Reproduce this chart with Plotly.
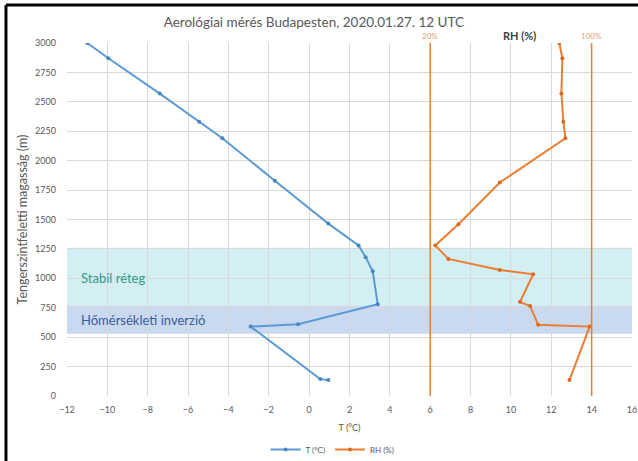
import plotly.graph_objects as go

# Temperature profile
t_height = [3000, 2870, 2570, 2330, 2190, 1830, 1465, 1280, 1180, 1060, 780, 610, 590, 145, 135]
t_values = [-11.0, -9.95, -7.4, -5.45, -4.3, -1.7, 0.95, 2.45, 2.8, 3.15, 3.4, -0.55, -2.9, 0.55, 0.95]

# Relative humidity profile
rh_height = [3000, 2870, 2570, 2330, 2190, 1815, 1460, 1280, 1165, 1070, 1035, 800, 765, 605, 590, 135]
rh_values = [84, 85.5, 85, 86, 87, 54.5, 34, 22.5, 29, 54.5, 71, 64.5, 69.5, 73.5, 99, 89]

# Layers (m)
stable_layer = [770, 1260]
inversion_layer = [530, 770]
rh_refs = [20, 100]
rh_ref_labels = ["20%", "100%"]

x_ticks = list(range(-12, 17, 2))
y_ticks = list(range(0, 3001, 250))

BLUE = "#5B9BD5"
ORANGE = "#ED7D31"
FONT = "Lato, Noto Sans, sans-serif"

fig = go.Figure()

fig.add_trace(go.Scatter(
    x=t_values, y=t_height, mode="lines+markers", name="T (°C)",
    line=dict(color=BLUE, width=2), marker=dict(color="#4A86C0", size=4),
    xaxis="x", yaxis="y"))

fig.add_trace(go.Scatter(
    x=rh_values, y=rh_height, mode="lines+markers", name="RH (%)",
    line=dict(color=ORANGE, width=2), marker=dict(color="#D96B20", size=4),
    xaxis="x2", yaxis="y"))

shapes = [
    dict(type="rect", xref="paper", yref="y", x0=0, x1=1,
         y0=stable_layer[0], y1=stable_layer[1],
         fillcolor="#d3eff4", line=dict(width=0), layer="below"),
    dict(type="rect", xref="paper", yref="y", x0=0, x1=1,
         y0=inversion_layer[0], y1=inversion_layer[1],
         fillcolor="#c9d9ef", line=dict(width=0), layer="below"),
    # outer frame (left and top edges)
    dict(type="line", xref="paper", yref="paper", x0=-0.108, x1=-0.108, y0=-0.3, y1=1.108,
         line=dict(color="black", width=3)),
    dict(type="line", xref="paper", yref="paper", x0=-0.108, x1=1.05, y0=1.108, y1=1.108,
         line=dict(color="black", width=3)),
]
for v in rh_refs:
    shapes.append(dict(type="line", xref="x2", yref="paper", x0=v, x1=v, y0=0, y1=1,
                       line=dict(color=ORANGE, width=1.5)))

annotations = [
    dict(text="Stabil réteg", x=0.022, xref="paper", y=1000, yref="y", xanchor="left",
         showarrow=False, font=dict(family=FONT, size=13, color="#2e9c8c")),
    dict(text="Hőmérsékleti inverzió", x=0.022, xref="paper", y=646, yref="y", xanchor="left",
         showarrow=False, font=dict(family=FONT, size=13, color="#3a5d9c")),
    dict(text="<b>RH (%)</b>", x=0.80, xref="paper", xanchor="center", y=1.045, yref="paper",
         showarrow=False, font=dict(family=FONT, size=11, color="#404040")),
]
for v, lab in zip(rh_refs, rh_ref_labels):
    annotations.append(dict(text=lab, x=v, xref="x2", xanchor="center", y=1.0, yref="paper",
                            yanchor="bottom", showarrow=False,
                            font=dict(family=FONT, size=8, color="#E8A070")))

fig.update_layout(
    width=638, height=461,
    margin=dict(l=67, r=6, t=43, b=65, autoexpand=False),
    paper_bgcolor="white", plot_bgcolor="white",
    title=dict(text="Aerológiai mérés Budapesten, 2020.01.27. 12 UTC", x=0.492, xanchor="center",
               y=0.952, yanchor="middle", font=dict(family=FONT, size=13.5, color="#595959")),
    font=dict(family=FONT, size=9, color="#595959"),
    xaxis=dict(range=[-12, 16], tickvals=x_ticks, showgrid=True, gridcolor="#d9d9d9",
               zeroline=False, showline=False, ticks="", ticklabelstandoff=7,
               title=dict(text="T (°C)", font=dict(size=9, color="#595959"), standoff=10)),
    xaxis2=dict(range=[-160, 120], overlaying="x", side="top", showticklabels=False,
                showgrid=False, zeroline=False, showline=False),
    yaxis=dict(range=[0, 3000], tickvals=y_ticks, showgrid=True, gridcolor="#d9d9d9",
               zeroline=False, showline=False, ticks="", ticklabelstandoff=10,
               title=dict(text="Tengerszintfeletti magasság (m)",
                          font=dict(size=12.5, color="#595959"), standoff=4)),
    legend=dict(orientation="h", x=0.47, xanchor="center", xref="paper",
                y=0.025, yref="container", yanchor="middle", itemwidth=30,
                font=dict(size=8, color="#595959")),
    shapes=shapes, annotations=annotations,
)

fig.write_html("out.html")
